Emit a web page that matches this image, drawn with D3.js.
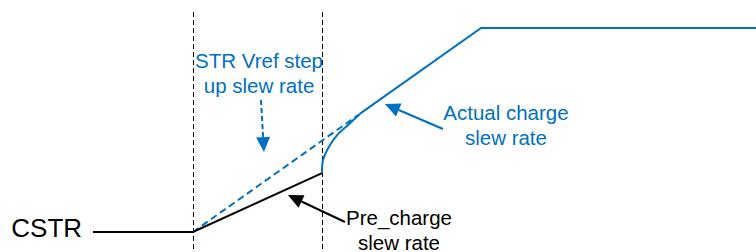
<!DOCTYPE html>
<html>
<head>
<meta charset="utf-8">
<script src="https://cdn.jsdelivr.net/npm/d3@7"></script>
<style>
    body { margin: 0; background: #fff; }
    svg { display: block; }
    text { font-family: "Liberation Sans", Arial, sans-serif; }
</style>
</head>
<body>
<div id="chart"></div>
<script>
// time in units of the pre-charge window, level as fraction of the final value
const markers = [0, 1];
const preCharge = [[-0.775, 0], [0, 0], [1, 0.289]];
const vrefRamp = [[0, 0], [1.28, 0.573]];
const actualCurve = [[1, 0.289], [1.008, 0.353], [1.062, 0.426], [1.124, 0.48], [1.194, 0.52], [1.295, 0.58]];
const actualRamp = [[1.295, 0.58], [2.233, 1], [4.4, 1]];

const labels = [
    { lines: ["CSTR"], t: -0.86, v: -0.025, anchor: "end", size: 26, color: "#000" },
    { lines: ["STR Vref step", "up slew rate"], t: 0.512, v: 0.804, anchor: "middle", size: 20.5, color: "#0070c0" },
    { lines: ["Actual charge", "slew rate"], t: 2.426, v: 0.549, anchor: "middle", size: 20.5, color: "#0070c0" },
    { lines: ["Pre_charge", "slew rate"], t: 1.597, v: 0.034, anchor: "middle", size: 20.5, color: "#000" }
];

const arrows = [
    { from: [1.178, 0.049], to: [0.736, 0.181], color: "#000", dash: null },
    { from: [1.938, 0.505], to: [1.488, 0.627], color: "#0070c0", dash: null },
    { from: [0.527, 0.647], to: [0.55, 0.392], color: "#0070c0", dash: "5,3" }
];

const width = 756, height = 252;
const blue = "#0070c0";

const x = d3.scaleLinear().domain([0, 1]).range([193, 322]);
const y = d3.scaleLinear().domain([0, 1]).range([232, 28]);

const svg = d3.select("#chart").append("svg")
    .attr("width", width)
    .attr("height", height);

const line = d3.line().x(d => x(d[0])).y(d => y(d[1]));

// vertical window markers
svg.selectAll(".marker")
    .data(markers)
    .enter()
    .append("line")
    .attr("class", "marker")
    .attr("x1", d => x(d) + 0.5).attr("x2", d => x(d) + 0.5)
    .attr("y1", y(1.078)).attr("y2", height)
    .attr("stroke", "#000")
    .attr("stroke-width", 1)
    .attr("shape-rendering", "crispEdges")
    .attr("stroke-dasharray", "5,3");

svg.append("path")
    .attr("d", line(vrefRamp))
    .attr("fill", "none")
    .attr("stroke", blue)
    .attr("stroke-width", 2)
    .attr("stroke-dasharray", "7,4");

svg.append("path")
    .attr("d", line(preCharge))
    .attr("fill", "none")
    .attr("stroke", "#000")
    .attr("stroke-width", 2);

svg.append("path")
    .attr("d", line.curve(d3.curveCatmullRom)(actualCurve))
    .attr("fill", "none")
    .attr("stroke", blue)
    .attr("stroke-width", 2);

svg.append("path")
    .attr("d", line.curve(d3.curveLinear)(actualRamp))
    .attr("fill", "none")
    .attr("stroke", blue)
    .attr("stroke-width", 2);

// arrows: shaft plus a filled head
arrows.forEach(a => {
    const x1 = x(a.from[0]), y1 = y(a.from[1]);
    const x2 = x(a.to[0]), y2 = y(a.to[1]);
    const ang = Math.atan2(y2 - y1, x2 - x1);
    const len = 15, half = 7;
    const bx = x2 - len * Math.cos(ang), by = y2 - len * Math.sin(ang);

    svg.append("line")
        .attr("x1", x1).attr("y1", y1)
        .attr("x2", bx).attr("y2", by)
        .attr("stroke", a.color)
        .attr("stroke-width", 2)
        .attr("stroke-dasharray", a.dash);

    const pts = [
        [x2, y2],
        [bx + half * Math.sin(ang), by - half * Math.cos(ang)],
        [bx - half * Math.sin(ang), by + half * Math.cos(ang)]
    ];
    svg.append("polygon")
        .attr("points", pts.map(p => p.join(",")).join(" "))
        .attr("fill", a.color);
});

labels.forEach(l => {
    const t = svg.append("text")
        .attr("x", x(l.t))
        .attr("y", y(l.v))
        .attr("text-anchor", l.anchor)
        .attr("font-size", l.size + "px")
        .attr("fill", l.color);
    t.selectAll("tspan")
        .data(l.lines)
        .enter()
        .append("tspan")
        .attr("x", x(l.t))
        .attr("dy", (d, i) => i === 0 ? 0 : 25)
        .text(d => d);
});
</script>
</body>
</html>
